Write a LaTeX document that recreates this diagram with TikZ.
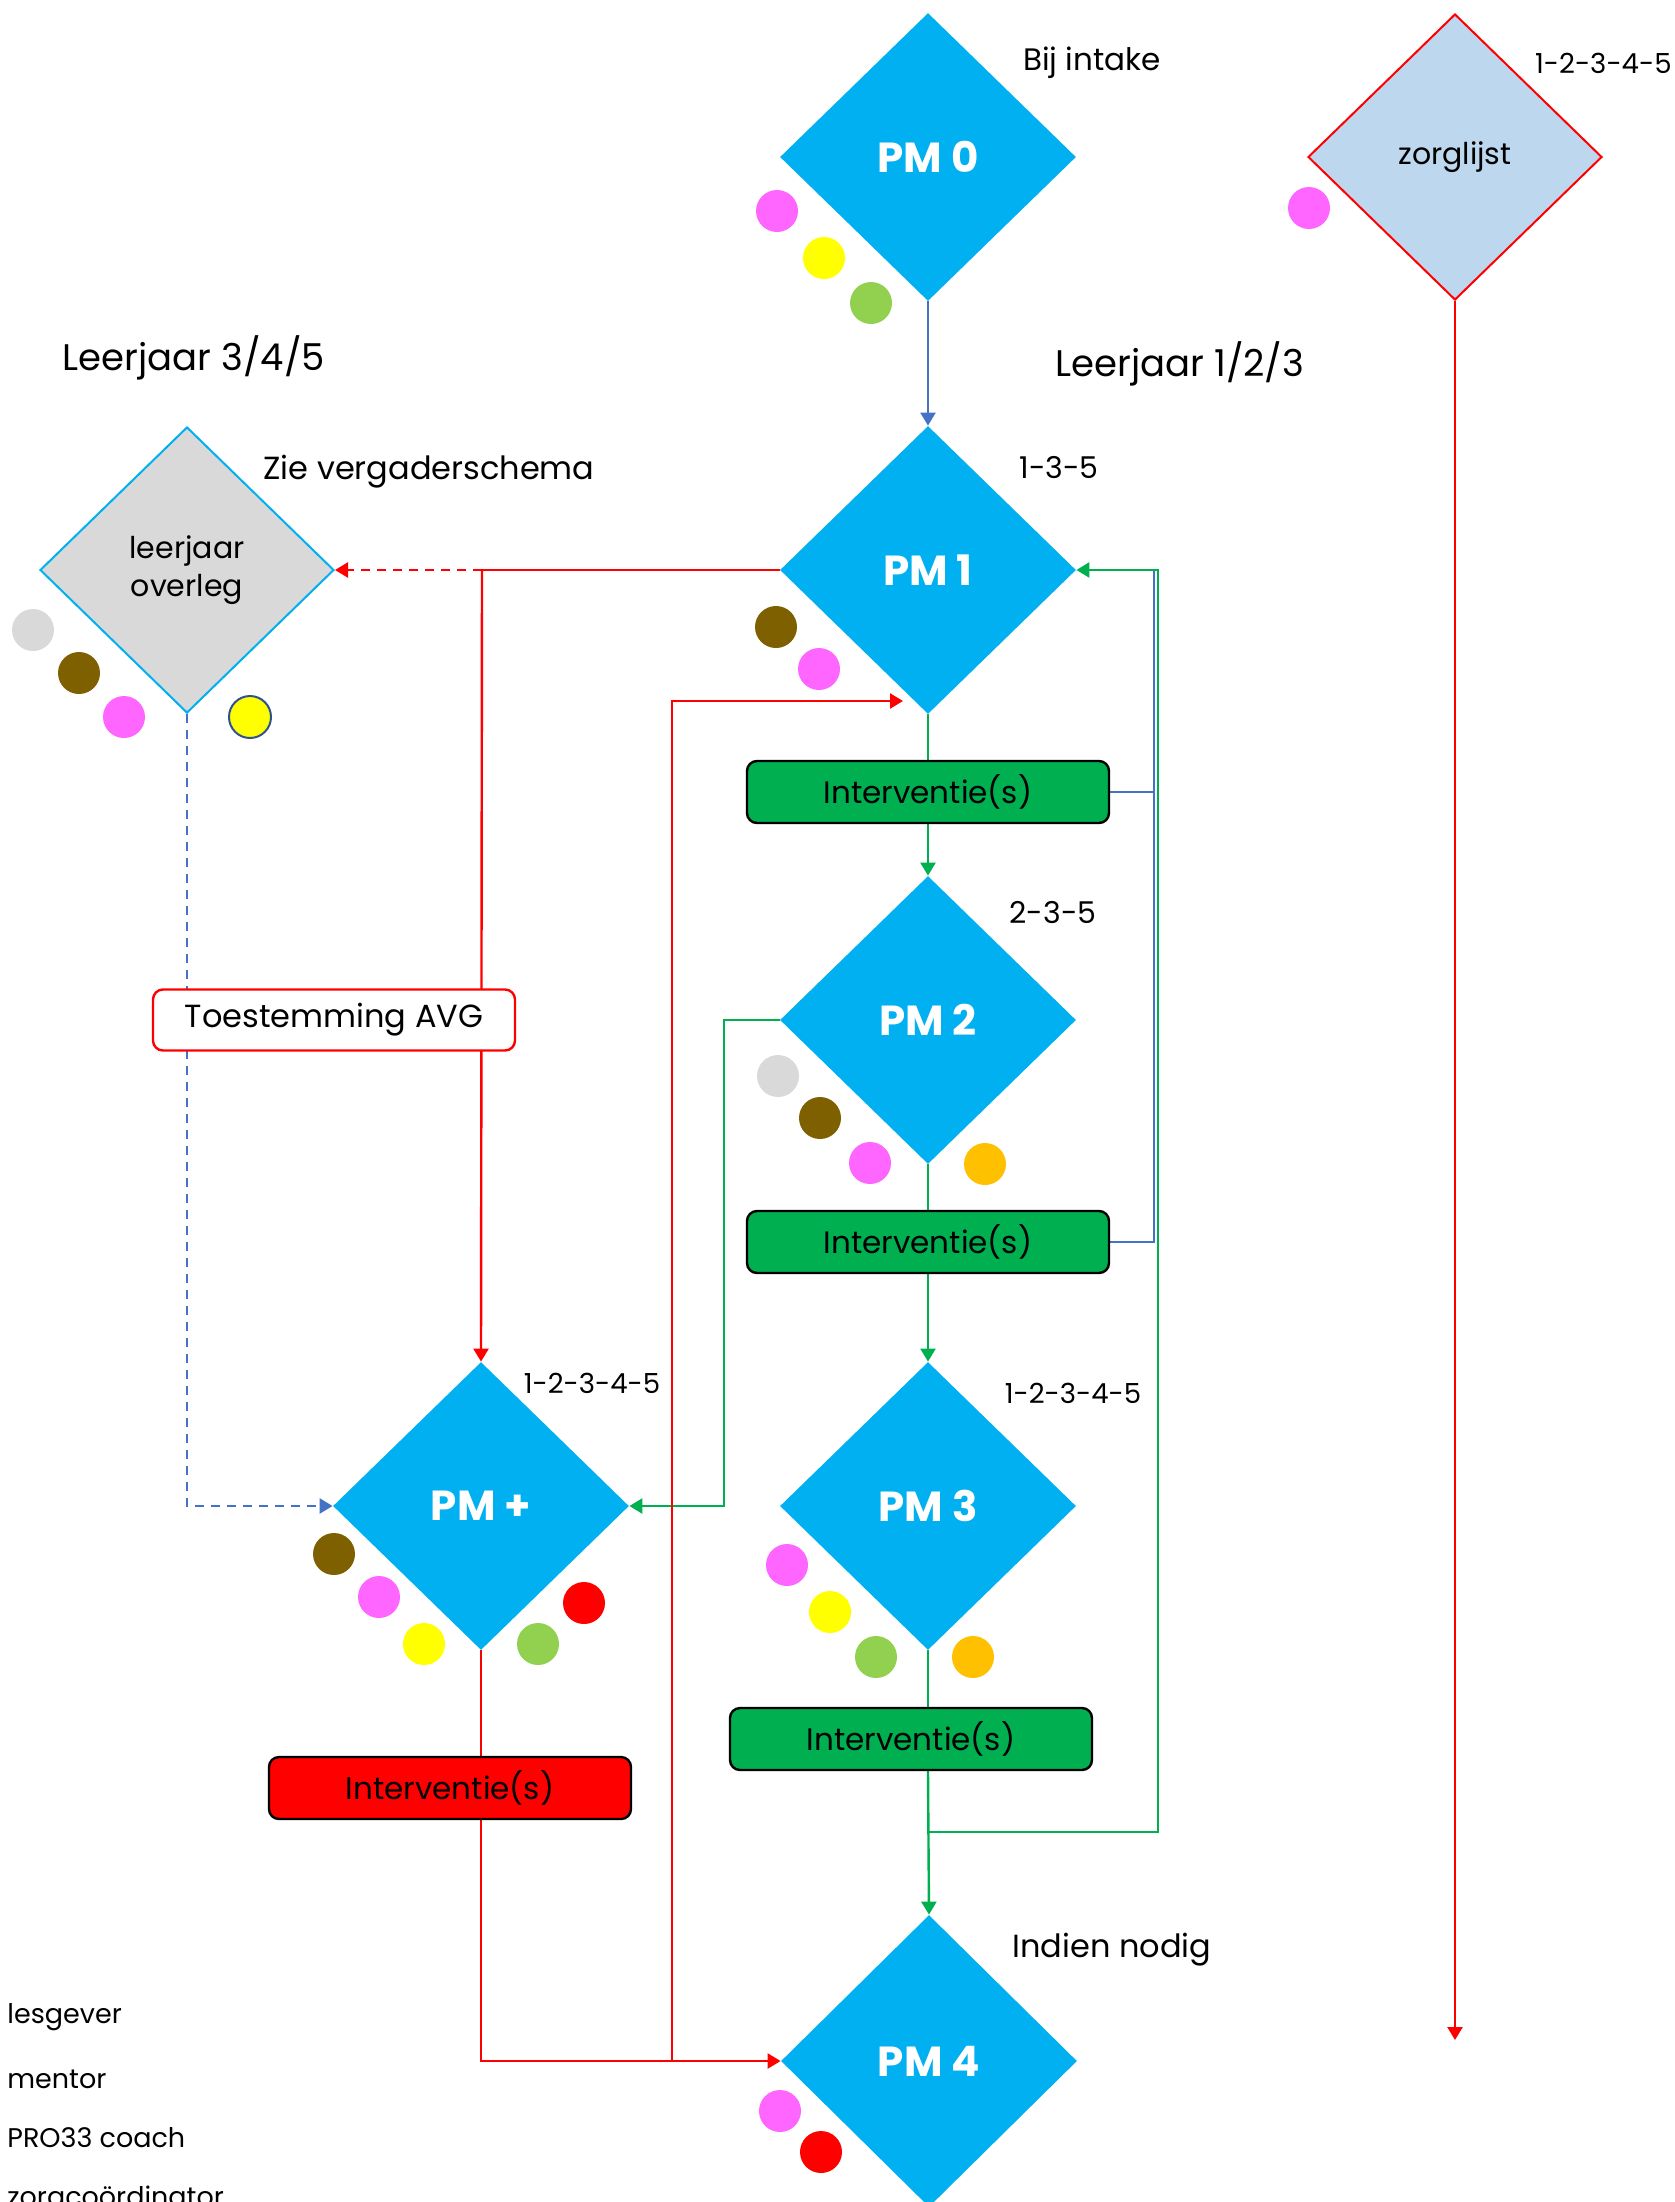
\documentclass[tikz,border=0pt]{standalone}
\usepackage{fontspec}
\setmainfont{Poppins}
\usetikzlibrary{shapes.geometric,arrows.meta}
\definecolor{cyanA}{HTML}{00B0F0}
\definecolor{pinkA}{HTML}{FF66FF}
\definecolor{yellowA}{HTML}{FFFF00}
\definecolor{lgreenA}{HTML}{92D050}
\definecolor{brownA}{HTML}{7F6000}
\definecolor{grayA}{HTML}{D9D9D9}
\definecolor{orangeA}{HTML}{FFC000}
\definecolor{redA}{HTML}{FF0000}
\definecolor{dgreenA}{HTML}{00B050}
\definecolor{blueA}{HTML}{4472C4}
\definecolor{zorgA}{HTML}{BDD7EE}
\definecolor{navyA}{HTML}{2F528F}
\pgfdeclarelayer{bg}
\pgfsetlayers{bg,main}
\begin{document}
\begin{tikzpicture}[x=0.5pt,y=-0.5pt,
  pm/.style={diamond,fill=cyanA,minimum width=148pt,minimum height=144pt,inner sep=0pt,text=white,font=\fontsize{21}{24}\selectfont\bfseries},
  dgm/.style={diamond,minimum width=147pt,minimum height=143pt,inner sep=0pt,line width=1pt,align=center,font=\fontsize{15}{19}\selectfont},
  dot/.style={circle,minimum size=21pt,inner sep=0pt},
  ibox/.style={rounded corners=5pt,draw=black,line width=1.2pt,minimum width=181pt,minimum height=31pt,inner sep=0pt,font=\fontsize{15.5}{18}\selectfont},
  lbl/.style={font=\fontsize{15}{18}\selectfont},
  num/.style={font=\fontsize{13.8}{17}\selectfont},
  big/.style={font=\fontsize{18.5}{22}\selectfont},
  leg/.style={anchor=base west,font=\fontsize{13.5}{17}\selectfont},
  conn/.style={line width=1.2pt},
  dsh/.style={dash pattern=on 4.5pt off 3.5pt},
  tip/.style={-{Triangle[width=7.5pt,length=6.5pt]}},
]
\useasboundingbox (0,0) rectangle (1675,2202);
\clip (0,0) rectangle (1675,2202);

% diamonds
\node[pm] (pm0) at (928,157) {PM 0};
\node[pm] (pm1) at (928,570) {PM 1};
\node[pm] (pm2) at (928,1020) {PM 2};
\node[pm] (pm3) at (928,1506) {PM 3};
\node[pm] (pmp) at (481,1506) {PM +};
\node[pm,minimum height=146pt] (pm4) at (929,2061) {PM 4};
\node[dgm,draw=redA,fill=zorgA] (zl) at (1455,157) {zorglijst};
\node[dgm,draw=cyanA,fill=grayA] (lo) at (187,570) {leerjaar\\overleg};

% boxes
\node[ibox,fill=dgreenA] (int1) at (928,792) {Interventie(s)};
\node[ibox,fill=dgreenA] (int2) at (928,1242) {Interventie(s)};
\node[ibox,fill=dgreenA] (int3) at (911,1739) {Interventie(s)};
\node[ibox,fill=redA] (intr) at (450,1788) {Interventie(s)};
\node[ibox,draw=redA,fill=white,minimum height=30.5pt,font=\fontsize{16}{19}\selectfont] (avg) at (334,1020) {Toestemming AVG};

% labels
\node[lbl,font=\fontsize{15.5}{18}\selectfont] (tIntake) at (1092,63) {Bij intake};
\node[num,anchor=east,inner sep=0pt] (tZl) at (1672,63) {1-2-3-4-5};
\node[big] (tL345) at (194,358) {Leerjaar 3/4/5};
\node[big] (tL123) at (1180,364) {Leerjaar 1/2/3};
\node[lbl,font=\fontsize{16}{19}\selectfont] (tZie) at (429,472) {Zie vergaderschema};
\node[lbl] (t135) at (1059,468) {1-3-5};
\node[lbl] (t235) at (1053,913) {2-3-5};
\node[num] (tPp) at (592,1383) {1-2-3-4-5};
\node[num] (tP3) at (1073,1393) {1-2-3-4-5};
\node[lbl,font=\fontsize{16}{19}\selectfont] (tNodig) at (1112,1950) {Indien nodig};

% legend
\node[leg,inner sep=0pt] (lg1) at (7,2023) {lesgever};
\node[leg,inner sep=0pt] (lg2) at (7,2088) {mentor};
\node[leg,inner sep=0pt] (lg3) at (7,2147) {PRO33 coach};
\node[leg,inner sep=0pt] (lg4) at (7,2206) {zorgcoördinator};

% dots
\node[dot,fill=pinkA] (d01) at (777,211) {};
\node[dot,fill=yellowA] (d02) at (824,258) {};
\node[dot,fill=lgreenA] (d03) at (871,303) {};
\node[dot,fill=pinkA] (dz1) at (1309,208) {};
\node[dot,fill=grayA] (dl1) at (33,630) {};
\node[dot,fill=brownA] (dl2) at (79,673) {};
\node[dot,fill=pinkA] (dl3) at (124,717) {};
\node[dot,fill=yellowA,draw=navyA,line width=1pt] (dl4) at (250,717) {};
\node[dot,fill=brownA] (d11) at (776,627) {};
\node[dot,fill=pinkA] (d12) at (819,669) {};
\node[dot,fill=grayA] (d21) at (778,1076) {};
\node[dot,fill=brownA] (d22) at (820,1118) {};
\node[dot,fill=pinkA] (d23) at (870,1163) {};
\node[dot,fill=orangeA] (d24) at (985,1164) {};
\node[dot,fill=brownA] (dp1) at (334,1554) {};
\node[dot,fill=pinkA] (dp2) at (379,1597) {};
\node[dot,fill=yellowA] (dp3) at (424,1644) {};
\node[dot,fill=lgreenA] (dp4) at (538,1644) {};
\node[dot,fill=redA] (dp5) at (584,1603) {};
\node[dot,fill=pinkA] (d31) at (787,1565) {};
\node[dot,fill=yellowA] (d32) at (830,1612) {};
\node[dot,fill=lgreenA] (d33) at (876,1657) {};
\node[dot,fill=orangeA] (d34) at (973,1657) {};
\node[dot,fill=pinkA] (d41) at (780,2111) {};
\node[dot,fill=redA] (d42) at (821,2152) {};

% helper coordinates
\coordinate (rA) at (482,570);
\coordinate (rB) at (672,2061);
\coordinate (rT) at (903,701);
\coordinate (gR) at (1158,1832);
\coordinate (gL) at (724,1020);
\coordinate (bTop) at (1154,570);
\coordinate (zEnd) at (1455,2040);

\begin{pgfonlayer}{bg}
  \draw[conn,blueA,tip] (pm0.south) -- (pm1.north);
  \draw[conn,blueA] (int2.east) -| (bTop);
  \draw[conn,blueA] (int1.east) -- (int1.east -| bTop);
  \draw[conn,dgreenA] (pm1.south) -- (int1.north);
  \draw[conn,dgreenA,tip] (int1.south) -- (pm2.north);
  \draw[conn,dgreenA] (pm2.south) -- (int2.north);
  \draw[conn,dgreenA,tip] (int2.south) -- (pm3.north);
  \draw[conn,dgreenA] (pm3.south) -- (pm3.south |- int3.north);
  \draw[conn,dgreenA,tip] (pm3.south |- int3.south) -- (pm4.north);
  \draw[conn,dgreenA,tip] (pm3.south |- gR) -- (gR) |- (pm1.east);
  \draw[conn,dgreenA,tip] (pm2.west) -- (gL) |- (pmp.east);
  \draw[conn,redA] (pm1.west) -- (rA);
  \draw[conn,redA,dsh,tip] (rA) -- (lo.east);
  \draw[conn,redA,tip] (rA) -- (pmp.north);
  \draw[conn,redA,tip] (pmp.south) |- (pm4.west);
  \draw[conn,redA,tip] (rB) |- (rT);
  \draw[conn,blueA,dsh,tip] (lo.south) |- (pmp.west);
  \draw[conn,redA,tip] (zl.south) -- (zEnd);
\end{pgfonlayer}
\end{tikzpicture}
\end{document}
